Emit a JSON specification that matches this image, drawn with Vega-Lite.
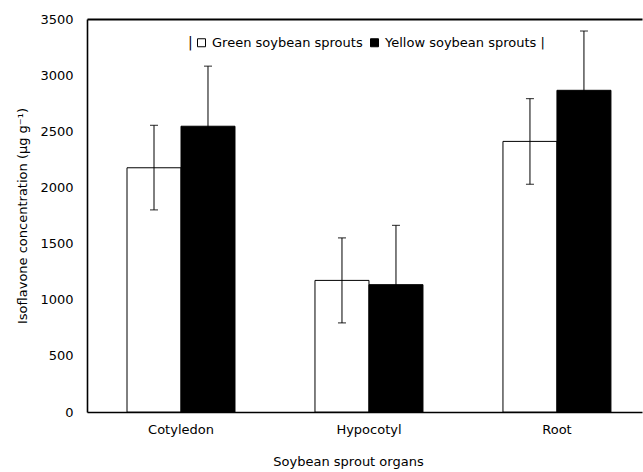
{
  "$schema": "https://vega.github.io/schema/vega-lite/v6.json",
  "width": 555,
  "height": 393,
  "autosize": "none",
  "padding": {"left": 87, "top": 19, "right": 1, "bottom": 60},
  "config": {
    "view": {"stroke": null},
    "font": "DejaVu Sans",
    "axis": {
      "domainColor": "black",
      "domainWidth": 1.6,
      "labelColor": "black",
      "titleColor": "black",
      "labelFontSize": 13,
      "titleFontSize": 13,
      "titleFontWeight": "normal",
      "grid": false,
      "ticks": false,
      "tickSize": 0
    }
  },
  "data": {
    "values": [
      {"organ": "Cotyledon", "sprout": "Green soybean sprouts", "value": 2175, "lower": 1800, "upper": 2553},
      {"organ": "Cotyledon", "sprout": "Yellow soybean sprouts", "value": 2545, "lower": 2010, "upper": 3080},
      {"organ": "Hypocotyl", "sprout": "Green soybean sprouts", "value": 1172, "lower": 793, "upper": 1550},
      {"organ": "Hypocotyl", "sprout": "Yellow soybean sprouts", "value": 1134, "lower": 606, "upper": 1662},
      {"organ": "Root", "sprout": "Green soybean sprouts", "value": 2410, "lower": 2028, "upper": 2791},
      {"organ": "Root", "sprout": "Yellow soybean sprouts", "value": 2865, "lower": 2337, "upper": 3393}
    ]
  },
  "encoding": {
    "x": {
      "field": "organ",
      "type": "nominal",
      "sort": ["Cotyledon", "Hypocotyl", "Root"],
      "scale": {"paddingInner": 0.4255, "paddingOuter": 0.189, "align": 0.563},
      "axis": null
    },
    "xOffset": {
      "field": "sprout",
      "type": "nominal",
      "sort": ["Green soybean sprouts", "Yellow soybean sprouts"],
      "scale": {"paddingInner": 0, "paddingOuter": 0}
    }
  },
  "layer": [
    {
      "mark": {"type": "bar", "stroke": "black", "strokeWidth": 1},
      "encoding": {
        "x": {
          "field": "organ",
          "type": "nominal",
          "sort": ["Cotyledon", "Hypocotyl", "Root"],
          "axis": {"orient": "bottom", "labelAngle": 0, "labelPadding": 11, "title": "Soybean sprout organs", "titlePadding": 19, "titleX": 261}
        },
        "y": {
          "field": "value",
          "type": "quantitative",
          "scale": {"domain": [0, 3500]},
          "axis": {"values": [0, 500, 1000, 1500, 2000, 2500, 3000, 3500], "format": "d", "labelPadding": 14, "title": "Isoflavone concentration (μg g⁻¹)", "titlePadding": 10}
        },
        "fill": {
          "field": "sprout",
          "type": "nominal",
          "scale": {"domain": ["Green soybean sprouts", "Yellow soybean sprouts"], "range": ["white", "black"]},
          "legend": {
            "orient": "none",
            "direction": "horizontal",
            "legendX": 101,
            "legendY": 17,
            "title": "|",
            "titleOrient": "left",
            "titleFontSize": 14,
            "titleFontWeight": "normal",
            "titleColor": "black",
            "titlePadding": 2,
            "labelFontSize": 13,
            "labelColor": "black",
            "labelLimit": 300,
            "labelOffset": 4,
            "columnPadding": 5,
            "symbolType": "square",
            "symbolSize": 64,
            "symbolStrokeColor": "black",
            "symbolStrokeWidth": 1,
            "padding": 0,
            "labelExpr": "datum.label == 'Yellow soybean sprouts' ? datum.label + '  |' : datum.label"
          }
        }
      }
    },
    {
      "mark": {"type": "rule", "color": "black", "strokeWidth": 1},
      "encoding": {
        "x": {
          "field": "organ",
          "type": "nominal",
          "sort": ["Cotyledon", "Hypocotyl", "Root"],
          "axis": {"orient": "top", "labels": false, "title": null, "domainWidth": 2}
        },
        "y": {"field": "lower", "type": "quantitative"},
        "y2": {"field": "upper"}
      }
    },
    {
      "mark": {"type": "tick", "color": "black", "size": 8, "thickness": 1.2},
      "encoding": {"y": {"field": "lower", "type": "quantitative"}}
    },
    {
      "mark": {"type": "tick", "color": "black", "size": 8, "thickness": 1.2},
      "encoding": {"y": {"field": "upper", "type": "quantitative"}}
    }
  ]
}
